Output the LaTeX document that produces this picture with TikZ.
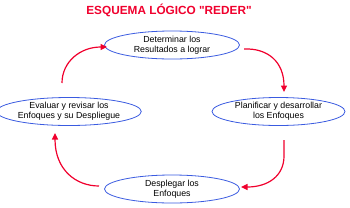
\documentclass[tikz,border=0pt]{standalone}
\usepackage{fontspec}
\setmainfont{Liberation Sans}[Ligatures=TeXOff]
\usetikzlibrary{arrows.meta,shapes.geometric}
\definecolor{arrred}{HTML}{F0002D}
\definecolor{ellblue}{HTML}{3A5BE0}
\begin{document}
\begin{tikzpicture}[x=1pt,y=-1pt,
  stage/.style={ellipse,draw=ellblue,line width=0.8pt,minimum width=135pt,minimum height=28pt,inner sep=0pt,align=center,font=\fontsize{8.8}{10}\selectfont},
  flow/.style={draw=arrred,line width=1.2pt,-{Triangle[length=6.5pt,width=6pt]}}]
\useasboundingbox (0,0) rectangle (350,207);
\node[font=\fontsize{11.8}{13}\bfseries\selectfont,text=arrred] (title) at (169,10) {ESQUEMA LÓGICO "REDER"};
\node[stage] (top) at (172,45) {Determinar los\\Resultados a lograr};
\node[stage,minimum width=136pt] (left) at (69,111.5) {Evaluar y revisar los\\Enfoques y su Despliegue};
\node[stage,minimum width=133pt] (right) at (278.5,111.5) {Planificar y desarrollar\\los Enfoques};
\node[stage] (bot) at (172,189) {Desplegar los\\Enfoques};
\coordinate (a1) at (244,49);
\coordinate (a2) at (284,92);
\coordinate (b1) at (284,140);
\coordinate (b2) at (241,187);
\coordinate (c1) at (99,186);
\coordinate (c2) at (55,133);
\coordinate (d1) at (62,83);
\coordinate (d2) at (107,47);
\draw[flow] (a1) .. controls (268,48) and (284,62) .. (a2);
\draw[flow] (b1) -- (284,156) .. controls (284,176) and (268,187) .. (b2);
\draw[flow] (c1) .. controls (76,186) and (55,170) .. (c2);
\draw[flow] (d1) .. controls (62,62) and (80,47) .. (d2);
\end{tikzpicture}
\end{document}
